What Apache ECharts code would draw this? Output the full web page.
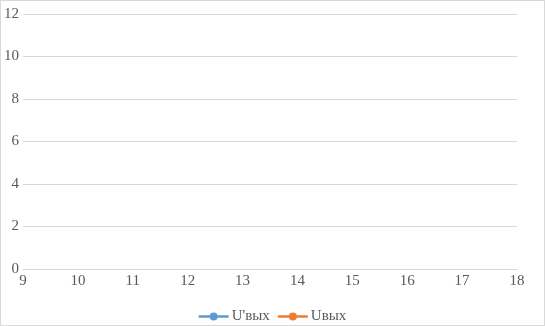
<!DOCTYPE html>
<html><head><meta charset="utf-8">
<script src="https://cdn.jsdelivr.net/npm/echarts@6/dist/echarts.min.js"></script>
<style>
html,body{margin:0;padding:0;background:#fff;}
#c{position:absolute;left:0;top:0;width:543px;height:324px;border:1px solid #d9d9d9;}
</style></head>
<body><div id="c"></div>
<script>
const seriesNames = ["U'вых", "Uвых"];
const seriesColors = ['#5b9bd5', '#ed7d31'];
const uPrimeOut = [];
const uOut = [];
const xMin = 9, xMax = 18, xStep = 1;
const yMin = 0, yMax = 12, yStep = 2;

const chart = echarts.init(document.getElementById('c'), null, {renderer: 'canvas'});
const font = '"Liberation Serif", "Times New Roman", serif';
const icon = 'path://M0,4.7H11.5V7.3H0Z M18.5,4.7H30V7.3H18.5Z M19,6A4,4 0 1 1 11,6A4,4 0 1 1 19,6Z';
chart.setOption({
  animation: false,
  textStyle: {fontFamily: font},
  grid: {left: 22, right: 27, top: 13, bottom: 56, containLabel: false},
  xAxis: {
    type: 'value', min: xMin, max: xMax, interval: xStep,
    axisLine: {show: true, lineStyle: {color: '#d9d9d9'}},
    axisTick: {show: false},
    splitLine: {show: false},
    axisLabel: {color: '#595959', fontSize: 15, fontFamily: font, margin: 5}
  },
  yAxis: {
    type: 'value', min: yMin, max: yMax, interval: yStep,
    axisLine: {show: false}, axisTick: {show: false},
    splitLine: {lineStyle: {color: '#d9d9d9', width: 1}},
    axisLabel: {color: '#595959', fontSize: 15, fontFamily: font, margin: 4}
  },
  legend: {
    bottom: -4, left: 'center', itemWidth: 30, itemHeight: 9, itemGap: 8,
    textStyle: {color: '#595959', fontSize: 15, fontFamily: font, padding: [0, 0, 0, -2]},
    data: [
      {name: seriesNames[0], icon: icon},
      {name: seriesNames[1], icon: icon}
    ]
  },
  series: [
    {name: seriesNames[0], type: 'line', data: uPrimeOut, color: seriesColors[0],
     symbol: 'circle', symbolSize: 7, lineStyle: {width: 2.5}},
    {name: seriesNames[1], type: 'line', data: uOut, color: seriesColors[1],
     symbol: 'circle', symbolSize: 7, lineStyle: {width: 2.5}}
  ]
});
</script></body></html>
